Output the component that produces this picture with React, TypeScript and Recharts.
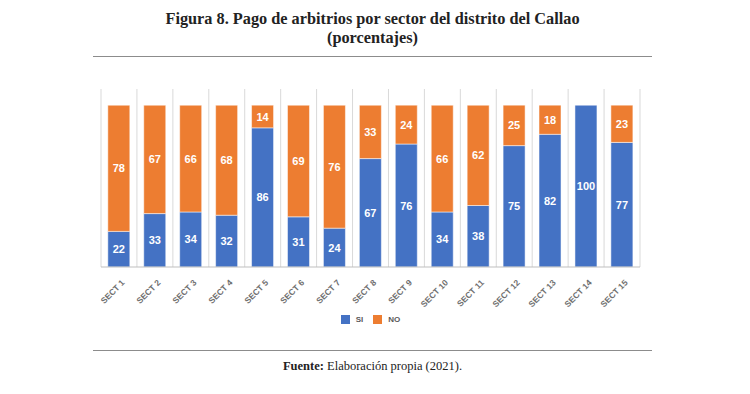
import React from 'react';
import { BarChart, Bar, XAxis, YAxis, CartesianGrid, Legend, LabelList } from 'recharts';

const categories = ['SECT 1','SECT 2','SECT 3','SECT 4','SECT 5','SECT 6','SECT 7','SECT 8','SECT 9','SECT 10','SECT 11','SECT 12','SECT 13','SECT 14','SECT 15'];
const siValues = [22,33,34,32,86,31,24,67,76,34,38,75,82,100,77];
const noValues = [78,67,66,68,14,69,76,33,24,66,62,25,18,0,23];

const data = categories.map((c, i) => ({ name: c, SI: siValues[i], NO: noValues[i] }));

const BLUE = '#4472C4';
const ORANGE = '#ED7D31';

const Tick = (props: any) => {
  const { x, y, payload } = props;
  return (
    <g transform={`translate(${x + 2},${y + 4})`}>
      <text x={0} y={0} dy={6} textAnchor="end" transform="rotate(-45)" fontFamily="Liberation Sans, Arial, sans-serif" fontSize={8.5} fontWeight="bold" fill="#6f6f6f">
        {payload.value}
      </text>
    </g>
  );
};

const renderLabel = (props: any) => {
  const { x, y, width, height, value } = props;
  if (!value) return null;
  return (
    <text x={x + width / 2} y={y + height / 2} dy={4} textAnchor="middle" fontFamily="Liberation Sans, Arial, sans-serif" fontSize={11} fontWeight="bold" fill="#ffffff">
      {value}
    </text>
  );
};

const LegendContent = () => (
  <div style={{ display: 'flex', justifyContent: 'center', alignItems: 'center', fontFamily: 'Liberation Sans, Arial, sans-serif', fontSize: 8, fontWeight: 'bold', color: '#595959' }}>
    <span style={{ display: 'inline-block', width: 9, height: 9, background: BLUE, marginRight: 6 }} />
    <span style={{ marginRight: 10 }}>SI</span>
    <span style={{ display: 'inline-block', width: 9, height: 9, background: ORANGE, marginRight: 6 }} />
    <span>NO</span>
  </div>
);

export default function App() {
  return (
    <div style={{ position: 'absolute', left: 0, top: 0, width: 750, height: 394, background: '#fff', overflow: 'hidden' }}>
      <div style={{ position: 'absolute', left: 0, top: 9, width: 745, textAlign: 'center', fontFamily: 'Liberation Serif, serif', fontWeight: 'bold', fontSize: 16.3, lineHeight: '19px', color: '#222' }}>
        Figura 8. Pago de arbitrios por sector del distrito del Callao<br />(porcentajes)
      </div>
      <div style={{ position: 'absolute', left: 93, top: 56, width: 559, height: 1, background: '#8c8c8c' }} />
      <div style={{ position: 'absolute', left: 0, top: 0 }}>
        <BarChart width={750} height={394} data={data} margin={{ top: 89, left: 101, right: 110, bottom: 0 }} barCategoryGap="19%">
          <CartesianGrid horizontal={false} stroke="#d9d9d9"
            verticalCoordinatesGenerator={({ offset }: any) => Array.from({ length: categories.length + 1 }, (_, i) => offset.left + (i * offset.width) / categories.length)} />
          <XAxis dataKey="name" height={45} interval={0} tickLine={false} axisLine={{ stroke: '#bfbfbf' }} tick={<Tick />} />
          <YAxis hide domain={[0, 110]} />
          <Legend verticalAlign="bottom" height={79} content={<LegendContent />} wrapperStyle={{ paddingTop: 3 }} />
          <Bar dataKey="SI" stackId="a" fill={BLUE} stroke="#ffffff" strokeOpacity={0.5} isAnimationActive={false}>
            <LabelList dataKey="SI" content={renderLabel} />
          </Bar>
          <Bar dataKey="NO" stackId="a" fill={ORANGE} stroke="#ffffff" strokeOpacity={0.5} isAnimationActive={false}>
            <LabelList dataKey="NO" content={renderLabel} />
          </Bar>
        </BarChart>
      </div>
      <div style={{ position: 'absolute', left: 93, top: 350, width: 559, height: 1, background: '#8c8c8c' }} />
      <div style={{ position: 'absolute', left: 0, top: 359, width: 745, textAlign: 'center', fontFamily: 'Liberation Serif, serif', fontSize: 12.5, color: '#222' }}>
        <b>Fuente:</b> Elaboración propia (2021).
      </div>
    </div>
  );
}
